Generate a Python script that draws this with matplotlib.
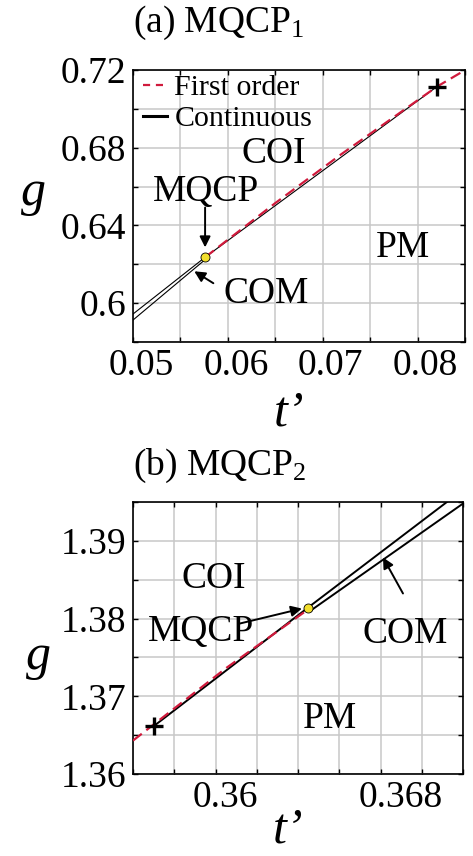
import matplotlib
matplotlib.use("Agg")
import matplotlib.pyplot as plt
import matplotlib.transforms as mtransforms
from matplotlib.lines import Line2D
import numpy as np

plt.rcParams['font.family'] = ['Liberation Serif', 'DejaVu Serif']
plt.rcParams['mathtext.fontset'] = 'custom'
plt.rcParams['mathtext.rm'] = 'Liberation Serif'
plt.rcParams['mathtext.it'] = 'Liberation Serif:italic'
plt.rcParams['mathtext.default'] = 'regular'

# ---------------- data: panel (a) MQCP1 ----------------
a_first_t = [0.0576, 0.065, 0.072, 0.0820, 0.0852]
a_first_g = [0.6236, 0.6515, 0.6768, 0.7113, 0.7205]
a_cont_t = [0.0576, 0.0820]
a_cont_g = [0.6236, 0.7113]
a_com_up_t = [0.0500, 0.0576]
a_com_up_g = [0.5944, 0.6236]
a_com_lo_t = [0.0500, 0.0578]
a_com_lo_g = [0.5913, 0.6232]
a_mqcp = (0.0576, 0.6236)
a_tcp = (0.0820, 0.7113)
a_xticks = [0.05, 0.055, 0.06, 0.065, 0.07, 0.075, 0.08, 0.085]
a_xlabels = ['0.05', '', '0.06', '', '0.07', '', '0.08', '']
a_yticks = [0.58, 0.60, 0.62, 0.64, 0.66, 0.68, 0.70, 0.72]
a_ylabels = ['', '0.6', '', '0.64', '', '0.68', '', '0.72']
legend_labels = ['First order', 'Continuous']

# ---------------- data: panel (b) MQCP2 ----------------
b_first_t = [0.3540, 0.3585, 0.3625]
b_first_g = [1.3643, 1.3736, 1.3812]
b_cont_t = [0.35502, 0.36249]
b_cont_g = [1.36619, 1.38142]
b_com_up_t = [0.36249, 0.36922]
b_com_up_g = [1.38142, 1.3950]
b_com_lo_t = [0.3626, 0.3700]
b_com_lo_g = [1.3810, 1.3948]
b_mqcp = (0.36249, 1.38142)
b_tcp = (0.35502, 1.36619)
b_xticks = [0.354, 0.356, 0.358, 0.360, 0.362, 0.364, 0.366, 0.368, 0.370]
b_xlabels = ['', '', '', '0.36', '', '', '', '0.368', '']
b_yticks = [1.360, 1.365, 1.370, 1.375, 1.380, 1.385, 1.390, 1.395]
b_ylabels = ['1.36', '', '1.37', '', '1.38', '', '1.39', '']

RED = '#d01a3c'
FS_TICK = 27
FS_TXT = 27
DASH = (5, 2.6)

fig = plt.figure(figsize=(4.73, 8.56), dpi=100)
W, H = 473.0, 856.0
axa = fig.add_axes([133 / W, 1 - 342 / H, (465 - 133) / W, (342 - 70) / H])
axb = fig.add_axes([133 / W, 1 - 774 / H, (463 - 133) / W, (774 - 502) / H])


def style(ax, xt, xl, yt, yl, xlim, ylim, xoffs):
    ax.set_xlim(*xlim)
    ax.set_ylim(*ylim)
    ax.set_xticks(xt)
    ax.set_xticklabels(xl)
    ax.set_yticks(yt)
    ax.set_yticklabels(yl)
    ax.grid(True, color='#c8c8c8', lw=1.1)
    ax.set_axisbelow(True)
    ax.tick_params(direction='in', top=True, right=True, length=3.5, width=1,
                   labelsize=FS_TICK, pad=5)
    for s in ax.spines.values():
        s.set_linewidth(1.2)
    for lab, dx in zip(ax.get_xticklabels(), xoffs):
        lab.set_transform(lab.get_transform() +
                          mtransforms.ScaledTranslation(dx / 100.0, 0, fig.dpi_scale_trans))


# ---------- panel (a) ----------
style(axa, a_xticks, a_xlabels, a_yticks, a_ylabels, (0.05, 0.085), (0.58, 0.72),
      [8] * len(a_xticks))
axa.plot(a_com_up_t, a_com_up_g, color='black', lw=0.8)
axa.plot(a_com_lo_t, a_com_lo_g, color='black', lw=0.8)
axa.plot(a_cont_t, a_cont_g, color='black', lw=0.8)
axa.plot(a_first_t, a_first_g, color=RED, lw=1.6, dashes=DASH)
axa.plot(*a_tcp, marker='+', color='black', ms=13, mew=2.4, ls='none')
axa.plot(*a_mqcp, marker='o', color='#f2de2c', mec='black', mew=0.6, ms=6.5, ls='none', zorder=5)

ann = dict(arrowstyle='-|>', color='black', lw=1.4, mutation_scale=16, shrinkA=0, shrinkB=0)
axa.text(0.06487, 0.6723, 'COI', fontsize=FS_TXT, ha='center', va='baseline')
axa.text(0.05773, 0.6528, 'MQCP', fontsize=FS_TXT, ha='center', va='baseline')
axa.annotate('', xy=(0.0576, 0.6287), xytext=(0.0576, 0.6492), arrowprops=ann)
axa.text(0.06407, 0.6000, 'COM', fontsize=FS_TXT, ha='center', va='baseline')
axa.annotate('', xy=(0.05646, 0.6164), xytext=(0.05847, 0.61026), arrowprops=ann)
axa.text(0.07841, 0.6236, 'PM', fontsize=FS_TXT, ha='center', va='baseline')

handles = [Line2D([], [], color=RED, lw=1.6, dashes=(3.2, 2.6)),
           Line2D([], [], color='black', lw=2.2)]
axa.legend(handles, legend_labels, loc='upper left',
           bbox_to_anchor=(0.03, 0.985), frameon=False, fontsize=21.5,
           handlelength=0.8, handletextpad=0.25, labelspacing=0.15,
           borderpad=0, borderaxespad=0)
axa.set_xlabel('t’', fontsize=36, style='italic', labelpad=0)
axa.set_ylabel('g', fontsize=36, style='italic', rotation=0, labelpad=0, va='center')
axa.yaxis.set_label_coords(-100 / 332, 0.55)
axa.xaxis.set_label_coords(0.47, -48 / 272)

# ---------- panel (b) ----------
style(axb, b_xticks, b_xlabels, b_yticks, b_ylabels, (0.354, 0.370), (1.36, 1.395),
      [0, 0, 0, -31, 0, 0, 0, -21, 0])
axb.plot(b_first_t, b_first_g, color=RED, lw=1.6, dashes=DASH, zorder=3)
axb.plot(b_cont_t, b_cont_g, color='black', lw=1.4, zorder=2)
axb.plot(b_com_up_t, b_com_up_g, color='black', lw=1.4)
axb.plot(b_com_lo_t, b_com_lo_g, color='black', lw=1.4)
axb.plot(*b_tcp, marker='+', color='black', ms=13, mew=2.4, ls='none', zorder=4)
axb.plot(*b_mqcp, marker='o', color='#f2de2c', mec='black', mew=0.6, ms=6.5, ls='none', zorder=5)

axb.text(0.35793, 1.38387, 'COI', fontsize=FS_TXT, ha='center', va='baseline')
axb.text(0.35730, 1.37716, 'MQCP', fontsize=FS_TXT, ha='center', va='baseline')
axb.annotate('', xy=(0.36219, 1.38129), xytext=(0.35916, 1.37935), arrowprops=ann)
axb.text(0.36719, 1.37690, 'COM', fontsize=FS_TXT, ha='center', va='baseline')
axb.annotate('', xy=(0.36612, 1.38787), xytext=(0.36709, 1.38323), arrowprops=ann)
axb.text(0.36355, 1.36594, 'PM', fontsize=FS_TXT, ha='center', va='baseline')
axb.set_xlabel('t’', fontsize=36, style='italic', labelpad=0)
axb.set_ylabel('g', fontsize=36, style='italic', rotation=0, labelpad=0, va='center')
axb.yaxis.set_label_coords(-95 / 330, 117 / 272)
axb.xaxis.set_label_coords(0.47, -33 / 272)

# titles
fig.text(133 / W, 1 - 32 / H, '(a) MQCP$_1$', fontsize=27, ha='left', va='baseline')
fig.text(133 / W, 1 - 475 / H, '(b) MQCP$_2$', fontsize=27, ha='left', va='baseline')

fig.savefig('out.png', dpi=100)
